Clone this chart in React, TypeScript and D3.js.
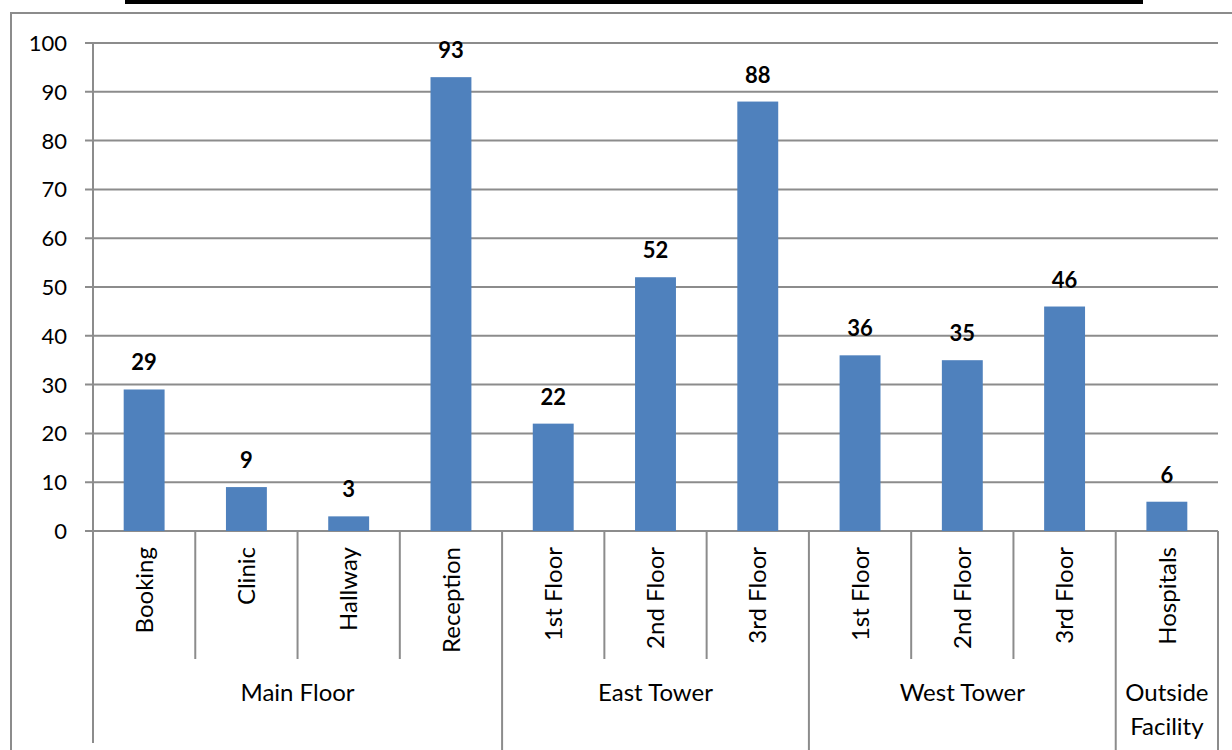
import React from "react";
import * as d3 from "d3";

// categories, grouped by building
const categories = [
  "Booking", "Clinic", "Hallway", "Reception",
  "1st Floor", "2nd Floor", "3rd Floor",
  "1st Floor", "2nd Floor", "3rd Floor",
  "Hospitals",
];
const values = [29, 9, 3, 93, 22, 52, 88, 36, 35, 46, 6];
const groups = [
  { label: ["Main Floor"], start: 0, end: 4 },
  { label: ["East Tower"], start: 4, end: 7 },
  { label: ["West Tower"], start: 7, end: 10 },
  { label: ["Outside", "Facility"], start: 10, end: 11 },
];
const yTicks = [0, 10, 20, 30, 40, 50, 60, 70, 80, 90, 100];

const W = 1232;
const H = 750;
const plot = { left: 93, right: 1218, top: 43, bottom: 531 };
const font = "Lato, 'Open Sans', sans-serif";
const gridColor = "#8c8c8c";

export default function App() {
  const y = d3.scaleLinear().domain([0, 100]).range([plot.bottom, plot.top]);
  const x = d3
    .scaleBand<number>()
    .domain(d3.range(categories.length))
    .range([plot.left, plot.right])
    .paddingInner(0.6)
    .paddingOuter(0.3);
  const step = x.step();
  const edge = (i: number) => plot.left + i * step;

  return (
    <svg
      width={W}
      height={H}
      style={{ position: "absolute", left: 0, top: 0, display: "block", background: "#fff" }}
      fontFamily={font}
    >
      {/* black header strip */}
      <rect x={125} y={0} width={1018} height={4} fill="#000" />
      {/* outer chart border */}
      <path d={`M11,${H} V13 H${W}`} fill="none" stroke={gridColor} strokeWidth={2} />

      {/* gridlines + y labels */}
      {yTicks.map((t) => (
        <g key={t}>
          <line x1={plot.left - 8} x2={plot.right} y1={y(t)} y2={y(t)} stroke={gridColor} strokeWidth={2} />
          <text x={67} y={y(t)} dy="0.36em" textAnchor="end" fontSize={22} fill="#000">
            {t}
          </text>
        </g>
      ))}

      {/* y axis */}
      <line x1={plot.left} x2={plot.left} y1={plot.top} y2={743} stroke={gridColor} strokeWidth={2} />

      {/* category separators */}
      {d3.range(1, categories.length + 1).map((i) => {
        const isGroup = groups.some((g) => g.end === i);
        return (
          <line
            key={i}
            x1={edge(i)}
            x2={edge(i)}
            y1={plot.bottom}
            y2={isGroup ? H : 659}
            stroke={gridColor}
            strokeWidth={2}
          />
        );
      })}

      {/* bars */}
      {values.map((v, i) => (
        <g key={i}>
          <rect x={x(i)} y={y(v)} width={x.bandwidth()} height={y(0) - y(v)} fill="#4f81bd" />
          <text
            x={x(i)! + x.bandwidth() / 2}
            y={y(v) - 19}
            textAnchor="middle"
            fontSize={22}
            fontWeight="bold"
            fill="#000"
          >
            {v}
          </text>
        </g>
      ))}

      {/* category labels */}
      {categories.map((c, i) => (
        <text
          key={i}
          transform={`translate(${x(i)! + x.bandwidth() / 2},547) rotate(-90)`}
          dy="0.36em"
          textAnchor="end"
          fontSize={24}
          fill="#000"
        >
          {c}
        </text>
      ))}

      {/* group labels */}
      {groups.map((g) => (
        <text
          key={g.label.join(" ")}
          x={(edge(g.start) + edge(g.end)) / 2}
          y={701}
          textAnchor="middle"
          fontSize={24}
          fill="#000"
        >
          {g.label.map((l, k) => (
            <tspan key={k} x={(edge(g.start) + edge(g.end)) / 2} dy={k === 0 ? 0 : 34}>
              {l}
            </tspan>
          ))}
        </text>
      ))}
    </svg>
  );
}
